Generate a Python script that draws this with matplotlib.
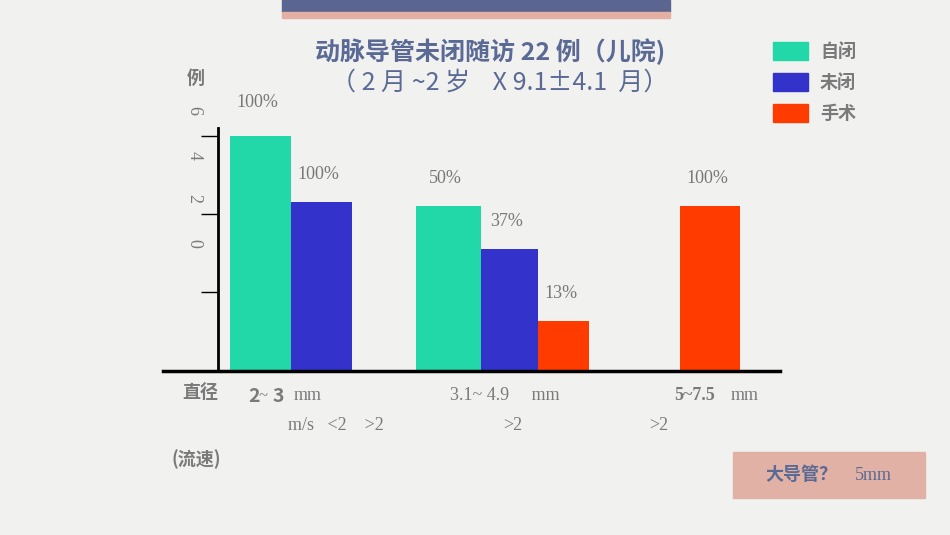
import matplotlib
matplotlib.use("Agg")
import matplotlib.pyplot as plt
from matplotlib.patches import Rectangle

plt.rcParams['font.family'] = ['Noto Sans CJK SC', 'DejaVu Sans']

series = ["自闭", "未闭", "手术"]
colors = ["#22d8a8", "#3333cc", "#ff3b00"]
values = [6, 4.3, 4.2, 3.1, 1.25, 4.2]
pcts = ["100%", "100%", "50%", "37%", "13%", "100%"]
bar_series = [0, 1, 0, 1, 2, 2]
bar_left = [230, 291, 416, 481, 538, 680]
bar_width = [61, 61, 65, 57, 51, 60]

W, H = 950, 535
fig = plt.figure(figsize=(9.5, 5.35), dpi=100)
fig.patch.set_facecolor("#f1f1f0")

def fx(x): return x / W
def fy(y): return 1 - y / H

fig.patches.append(Rectangle((fx(282), fy(12)), fx(388), 12 / H, color="#5b6690", transform=fig.transFigure))
fig.patches.append(Rectangle((fx(282), fy(18)), fx(388), 6 / H, color="#e3b0a3", transform=fig.transFigure))

ax = fig.add_axes([fx(218), fy(370), fx(780 - 218), (370 - 136) / H])
ax.set_facecolor("none")
ax.set_xlim(218, 780)
ax.set_ylim(0, 6)
for i, v in enumerate(values):
    ax.bar(bar_left[i], v, width=bar_width[i], align="edge", color=colors[bar_series[i]])
    ax.annotate(pcts[i], (bar_left[i] + bar_width[i] / 2, v), xytext=(-2, 14 if i else 18),
                textcoords="offset points", ha="center", va="bottom", fontsize=13,
                color="#777777", family="Liberation Serif")
for s in ["top", "right", "bottom"]:
    ax.spines[s].set_visible(False)
ax.spines["left"].set_linewidth(2)
ax.spines["left"].set_bounds(0, 6.2)
ax.set_xticks([])
ax.set_yticks([2, 4, 6])
ax.set_yticklabels([])
ax.tick_params(axis="y", length=12, width=1, direction="out")
for sp in ax.spines.values():
    sp.set_clip_on(False)

fig.add_artist(plt.Line2D([fx(163), fx(780)], [fy(371), fy(371)], color="black", lw=2.5, transform=fig.transFigure))

gray = "#7a7a7a"
def t(x, y, s, **kw):
    fig.text(fx(x), fy(y), s, **kw)

t(196, 78, "例", fontsize=13, color=gray, weight="bold", ha="center", va="center")
for lbl, y in zip(["6", "4", "2", "0"], [110, 156, 199, 243]):
    t(194, y, lbl, fontsize=13, color=gray, rotation=-90, ha="center", va="center", family="Liberation Serif")

navy = "#5a6a94"
t(490, 52, "动脉导管未闭随访 22 例（儿院)", fontsize=18, color=navy, weight="bold", ha="center", va="center")
t(500, 83, "（ 2 月 ~2 岁    X 9.1±4.1  月）", fontsize=18, color=navy, ha="center", va="center")

for i, (s, c) in enumerate(zip(series, colors)):
    y = 51 + 31 * i
    fig.patches.append(Rectangle((fx(773), fy(y + 9)), fx(35), 18 / H, color=c, transform=fig.transFigure))
    t(820, y, s, fontsize=13, color=gray, weight="bold", va="center")

t(200, 392, "直径", fontsize=13, color=gray, weight="bold", ha="center", va="center")
t(248, 396, "2", fontsize=14, color=gray, weight="bold", va="center")
t(259, 396, "~", fontsize=12, color=gray, va="center", family="Liberation Serif")
t(273, 396, "3", fontsize=14, color=gray, weight="bold", va="center")
t(294, 396, "mm", fontsize=13, color=gray, va="center", family="Liberation Serif")
t(450, 396, "3.1~ 4.9     mm", fontsize=13, color=gray, va="center", family="Liberation Serif")
t(674, 396, "5~7.5", fontsize=13, color=gray, weight="bold", va="center", family="Liberation Serif")
t(731, 396, "mm", fontsize=13, color=gray, va="center", family="Liberation Serif")
t(288, 425, "m/s   <2    >2", fontsize=13, color=gray, va="center", family="Liberation Serif")
t(503, 425, ">2", fontsize=13, color=gray, va="center", family="Liberation Serif")
t(649, 425, ">2", fontsize=13, color=gray, va="center", family="Liberation Serif")
t(196, 459, "(流速)", fontsize=13, color=gray, weight="bold", ha="center", va="center")

fig.patches.append(Rectangle((fx(733), fy(498)), fx(192), 46 / H, color="#e2b1a6", transform=fig.transFigure))
t(765, 475, "大导管？", fontsize=13, color=navy, weight="bold", va="center")
t(855, 476, "5mm", fontsize=13, color=navy, va="center", family="Liberation Serif")

fig.savefig("out.png", dpi=100, facecolor=fig.get_facecolor())
